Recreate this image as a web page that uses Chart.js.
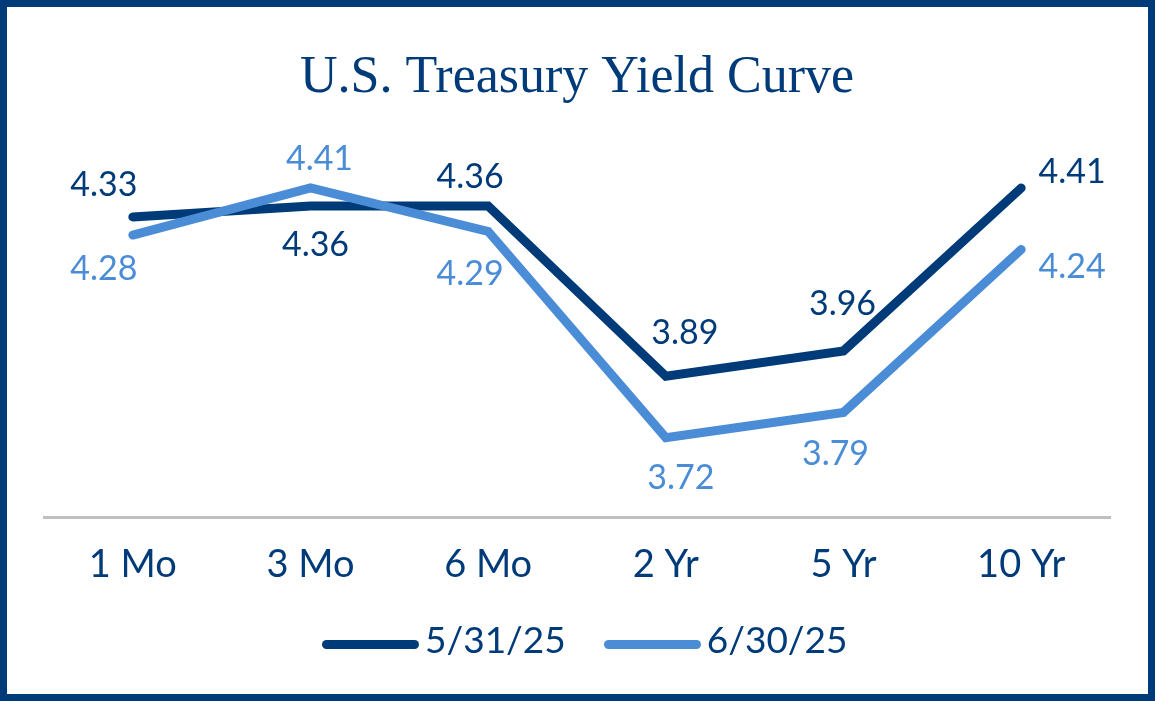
<!DOCTYPE html>
<html>
<head>
<meta charset="utf-8">
<title>U.S. Treasury Yield Curve</title>
<script src="https://cdn.jsdelivr.net/npm/chart.js@4.4.1/dist/chart.umd.min.js"></script>
<style>
  html, body { margin: 0; padding: 0; background: #fff; }
  #frame {
    position: relative;
    width: 1155px;
    height: 701px;
    box-sizing: border-box;
    border: 7px solid #003b79;
    overflow: hidden;
  }
  #chartWrap { position: absolute; left: -7px; top: -7px; width: 1155px; height: 701px; }
  #legend {
    position: absolute;
    left: 315px;
    top: 613px;
    display: flex;
    align-items: center;
    font-family: Lato, sans-serif;
    font-size: 37px;
    line-height: 37px;
    color: #003b79;
  }
  .legend-item { display: flex; align-items: center; margin-right: 38px; }
  .legend-line { width: 97px; height: 9px; border-radius: 4.5px; margin: 12px 6px 0 0; }
</style>
</head>
<body>
<div id="frame">
  <div id="chartWrap"><canvas id="yieldChart"></canvas></div>
  <div id="legend"></div>
</div>
<script>
// Chart data
const maturities = ['1 Mo', '3 Mo', '6 Mo', '2 Yr', '5 Yr', '10 Yr'];
const seriesNames = ['5/31/25', '6/30/25'];
const yieldsMay = [4.33, 4.36, 4.36, 3.89, 3.96, 4.41];
const yieldsJune = [4.28, 4.41, 4.29, 3.72, 3.79, 4.24];

// Colours
const NAVY = '#003b79';
const SKY = '#4a8dd6';

// Where each value label sits relative to its point (px)
const mayLabelOffsets = [[-29, -33], [5, 38], [-18, -30], [19, -44], [-1, -48], [51, -17]];
const juneLabelOffsets = [[-29, 33], [9, -30], [-18, 41], [15, 39], [-8, 40], [51, 16]];

const LABEL_FONT_SIZE = 34;

// Draws the value labels next to every point
const valueLabels = {
  id: 'valueLabels',
  afterDatasetsDraw(chart) {
    const ctx = chart.ctx;
    ctx.save();
    ctx.font = `${LABEL_FONT_SIZE}px Lato, sans-serif`;
    ctx.textAlign = 'center';
    ctx.textBaseline = 'alphabetic';
    const capHalf = LABEL_FONT_SIZE * 0.717 / 2;
    chart.data.datasets.forEach((ds, di) => {
      const meta = chart.getDatasetMeta(di);
      ctx.fillStyle = ds.borderColor;
      meta.data.forEach((pt, i) => {
        const off = ds.labelOffsets[i];
        ctx.fillText(ds.data[i].toFixed(2), pt.x + off[0], pt.y + off[1] + capHalf);
      });
    });
    ctx.restore();
  }
};

document.addEventListener('DOMContentLoaded', () => {
  const chart = renderChart();
  renderLegend(chart);
});

function renderChart() {
  const ctx = document.getElementById('yieldChart').getContext('2d');
  return new Chart(ctx, {
    type: 'line',
    data: {
      labels: maturities,
      datasets: [
        {
          label: seriesNames[0],
          data: yieldsMay,
          borderColor: NAVY,
          backgroundColor: NAVY,
          borderWidth: 9,
          borderCapStyle: 'round',
          pointRadius: 0,
          tension: 0,
          order: 2,
          labelOffsets: mayLabelOffsets
        },
        {
          label: seriesNames[1],
          data: yieldsJune,
          borderColor: SKY,
          backgroundColor: SKY,
          borderWidth: 9,
          borderCapStyle: 'round',
          pointRadius: 0,
          tension: 0,
          order: 1,
          labelOffsets: juneLabelOffsets
        }
      ]
    },
    options: {
      responsive: true,
      maintainAspectRatio: false,
      animation: false,
      layout: { padding: { left: 44, right: 45, top: 0, bottom: 96 } },
      plugins: {
        legend: { display: false },
        tooltip: { enabled: false },
        title: {
          display: true,
          text: 'U.S. Treasury Yield Curve',
          color: NAVY,
          font: { family: '"Liberation Serif", serif', size: 52, weight: 'normal', lineHeight: 1.2 },
          padding: { top: 47, bottom: 46 }
        }
      },
      scales: {
        x: {
          offset: true,
          grid: { display: false },
          border: { display: true, color: '#bfbfbf', width: 3 },
          ticks: {
            color: NAVY,
            padding: 17,
            font: { family: 'Lato', size: 38 }
          }
        },
        y: {
          display: false,
          min: 3.5,
          max: 4.5
        }
      }
    },
    plugins: [valueLabels]
  });
}

// Legend built as plain HTML under the chart
function renderLegend(chart) {
  const container = document.getElementById('legend');
  container.innerHTML = '';
  chart.data.datasets.forEach(ds => {
    const item = document.createElement('div');
    item.className = 'legend-item';
    item.innerHTML = `<span class="legend-line" style="background:${ds.borderColor}"></span><span>${ds.label}</span>`;
    container.appendChild(item);
  });
}
</script>
</body>
</html>
